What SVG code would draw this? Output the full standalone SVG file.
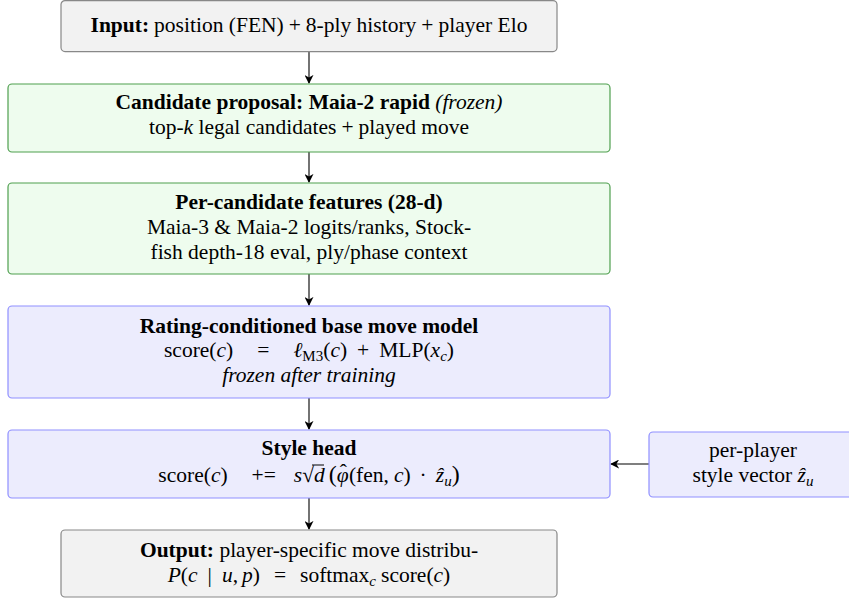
<svg xmlns="http://www.w3.org/2000/svg" width="849" height="598" viewBox="0 0 849 598">
<style>
.t{font-family:"Liberation Serif","Times New Roman",serif;font-size:21.5px;fill:#000;text-anchor:middle}
.b{font-weight:bold}
.i{font-style:italic}
.sub{font-size:15px}
.big{font-size:24px}
.gray{fill:#f2f2f2;stroke:#888;stroke-width:1.2}
.green{fill:#eefcee;stroke:#4f9f4f;stroke-width:1.2}
.blue{fill:#ececfd;stroke:#8f8fff;stroke-width:1.2}
.arr{stroke:#000;stroke-width:1.1;fill:none;marker-end:url(#ah)}
</style>
<defs>
<marker id="ah" viewBox="0 0 10 10" refX="9" refY="5" markerWidth="9" markerHeight="9" markerUnits="userSpaceOnUse" orient="auto">
<path d="M0,0 L10,5 L0,10 L3,5 Z" fill="#000"/>
</marker>
</defs>
<rect width="849" height="598" fill="#fff"/>
<g id="connectors">
<line class="arr" x1="309" y1="52" x2="309" y2="83"/>
<line class="arr" x1="309" y1="152" x2="309" y2="182"/>
<line class="arr" x1="309" y1="274" x2="309" y2="305"/>
<line class="arr" x1="309" y1="398" x2="309" y2="429"/>
<line class="arr" x1="309" y1="498" x2="309" y2="529"/>
<line class="arr" x1="649" y1="464" x2="611" y2="464"/>
</g>
<g id="input">
<rect class="gray" x="61" y="0.6" width="496" height="51" rx="4"/>
<text class="t" x="309" y="32"><tspan class="b">Input:</tspan><tspan dx="5">position (FEN)</tspan><tspan dx="5">+</tspan><tspan dx="5">8-ply history</tspan><tspan dx="5">+</tspan><tspan dx="5">player Elo</tspan></text>
</g>
<g id="candidate">
<rect class="green" x="8" y="84" width="602" height="68" rx="4"/>
<text class="t" x="309" y="109"><tspan class="b">Candidate proposal: Maia-2 rapid</tspan> <tspan class="i">(frozen)</tspan></text>
<text class="t" x="309" y="134">top-<tspan class="i">k</tspan> legal candidates<tspan dx="5">+</tspan><tspan dx="5">played move</tspan></text>
</g>
<g id="features">
<rect class="green" x="8" y="183" width="602" height="91" rx="4"/>
<text class="t b" x="309" y="209">Per-candidate features (28-d)</text>
<text class="t" x="309" y="234">Maia-3 &amp; Maia-2 logits/ranks, Stock-</text>
<text class="t" x="309" y="259">fish depth-18 eval, ply/phase context</text>
</g>
<g id="base">
<rect class="blue" x="8" y="306" width="602" height="92" rx="4"/>
<text class="t b" x="309" y="333">Rating-conditioned base move model</text>
<text class="t" x="309" y="357"><tspan>score(</tspan><tspan class="i">c</tspan><tspan>)</tspan><tspan dx="24">=</tspan><tspan class="i" dx="24">ℓ</tspan><tspan class="sub" dy="4">M3</tspan><tspan dy="-4">(</tspan><tspan class="i">c</tspan><tspan>)</tspan><tspan dx="10">+</tspan><tspan dx="10">MLP(</tspan><tspan class="i">x</tspan><tspan class="sub i" dy="4">c</tspan><tspan dy="-4">)</tspan></text>
<text class="t i" x="309" y="382">frozen after training</text>
</g>
<g id="style">
<rect class="blue" x="8" y="430" width="602" height="68" rx="4"/>
<text class="t b" x="309" y="455">Style head</text>
<text class="t" x="309" y="482"><tspan>score(</tspan><tspan class="i">c</tspan><tspan>)</tspan><tspan dx="24">+=</tspan><tspan class="i" dx="18">s</tspan><tspan>√</tspan><tspan class="i">d</tspan><tspan class="big" dx="4">(</tspan><tspan class="i">φ</tspan><tspan dx="-9" dy="-3">ˆ</tspan><tspan dx="2" dy="3">(fen,</tspan><tspan class="i" dx="5">c</tspan><tspan>)</tspan><tspan dx="9">·</tspan><tspan class="i" dx="9">ẑ</tspan><tspan class="sub i" dy="4">u</tspan><tspan class="big" dy="-4">)</tspan></text>
<line x1="312" y1="465" x2="324" y2="465" stroke="#000" stroke-width="1"/>
</g>
<g id="player">
<rect class="blue" x="649" y="432" width="215" height="65" rx="4"/>
<text class="t" x="753" y="457">per-player</text>
<text class="t" x="753" y="482">style vector <tspan class="i">ẑ</tspan><tspan class="sub i" dy="4">u</tspan></text>
</g>
<g id="output">
<rect class="gray" x="61" y="530" width="496" height="67" rx="4"/>
<text class="t" x="309" y="557"><tspan class="b">Output:</tspan> player-specific move distribu-</text>
<text class="t" x="309" y="582"><tspan class="i">P</tspan><tspan>(</tspan><tspan class="i">c</tspan><tspan dx="10">|</tspan><tspan class="i" dx="10">u</tspan><tspan>,</tspan><tspan class="i" dx="4">p</tspan><tspan>)</tspan><tspan dx="14">=</tspan><tspan dx="14">softmax</tspan><tspan class="sub i" dy="4">c</tspan><tspan dy="-4" dx="5">score(</tspan><tspan class="i">c</tspan><tspan>)</tspan></text>
</g>
</svg>
